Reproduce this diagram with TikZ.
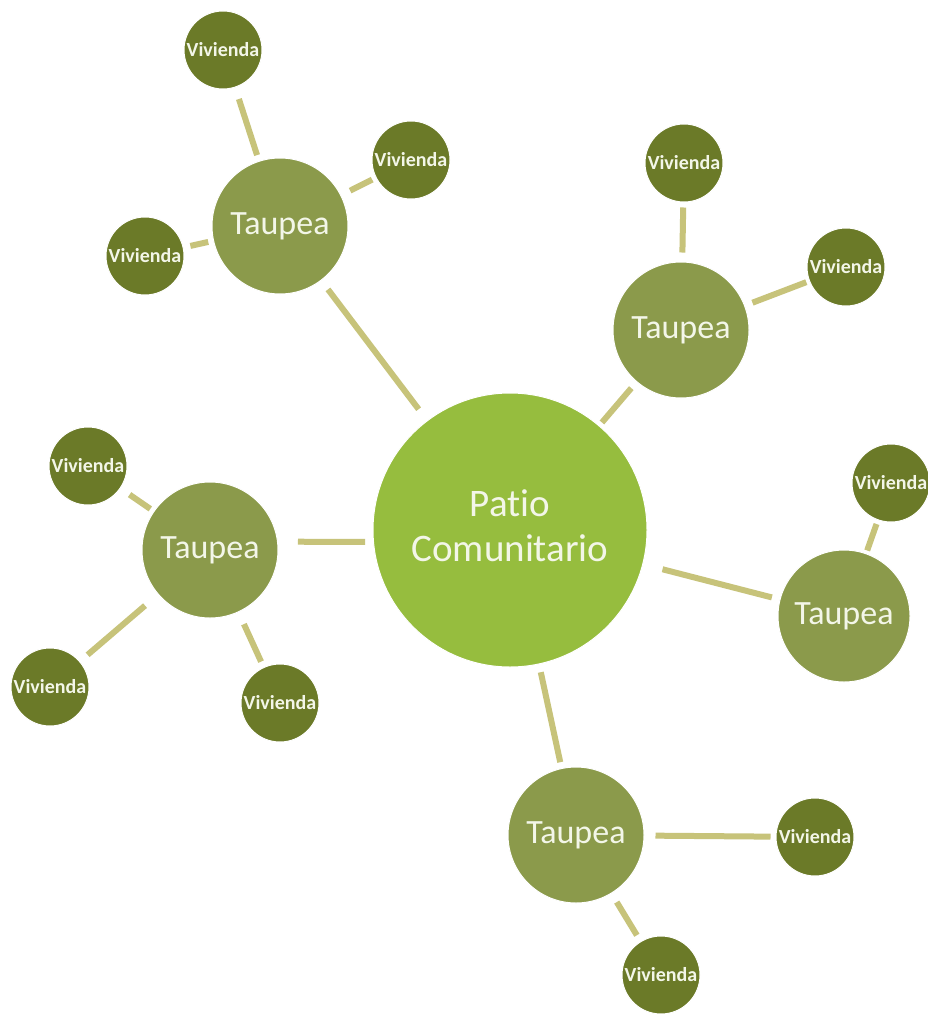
\documentclass[tikz,border=0pt]{standalone}
\usepackage{fontspec}
\setmainfont[Ligatures=NoCommon]{Carlito}
\definecolor{centerfill}{HTML}{96BD3E}
\definecolor{taupefill}{HTML}{8B9A4B}
\definecolor{vivfill}{HTML}{6B7A28}
\definecolor{linecol}{HTML}{C7C37A}
\definecolor{txtcol}{HTML}{F3F6E8}
\tikzset{
  hub/.style={circle, inner sep=0pt, minimum size=274pt, fill=centerfill, draw=white, line width=1pt, text=txtcol, font=\fontsize{39}{45}\selectfont},
  taupe/.style={circle, inner sep=0pt, minimum size=136pt, fill=taupefill, draw=white, line width=1pt, text=txtcol, font=\fontsize{34}{40}\selectfont},
  viv/.style={circle, inner sep=0pt, minimum size=78pt, fill=vivfill, draw=white, line width=1pt, text=txtcol, font=\bfseries\fontsize{20}{24}\selectfont},
  link/.style={draw=linecol, line width=6pt}
}
\begin{document}
\begin{tikzpicture}[x=1pt,y=-1pt]
\useasboundingbox (0,0) rectangle (928,1014);
\fill[white] (0,0) rectangle (928,1014);
% nodes
\node[hub] (C) at (510,530) {\raisebox{16pt}{\begin{tabular}{@{}c@{}}Patio\\Comunitario\end{tabular}}};
\node[taupe] (T1) at (280,226) {Taupea};
\node[taupe] (T2) at (681,330) {Taupea};
\node[taupe] (T3) at (210,550) {Taupea};
\node[taupe, minimum size=132pt] (T4) at (844,616) {Taupea};
\node[taupe] (T5) at (576,835) {Taupea};
\node[viv] (V1) at (223,50) {Vivienda};
\node[viv] (V2) at (411,160) {Vivienda};
\node[viv] (V3) at (145,256) {Vivienda};
\node[viv] (V4) at (684,163) {Vivienda};
\node[viv] (V5) at (846,267) {Vivienda};
\node[viv] (V6) at (88,466) {Vivienda};
\node[viv] (V7) at (891,483) {Vivienda};
\node[viv] (V8) at (50,687) {Vivienda};
\node[viv] (V9) at (280,703) {Vivienda};
\node[viv] (V10) at (815,837) {Vivienda};
\node[viv] (V11) at (661,975) {Vivienda};
% connectors
\draw[link, shorten <=11pt, shorten >=14pt] (T1) -- (C);
\draw[link, shorten <=8pt, shorten >=4pt] (T2) -- (C);
\draw[link, shorten <=20pt, shorten >=8pt] (T3.7) -- (C.185);
\draw[link, shorten <=8pt, shorten >=20pt] (T4) -- (C);
\draw[link, shorten <=6pt, shorten >=8pt] (T5) -- (C);
\draw[link, shorten <=6pt, shorten >=12pt] (T1) -- (V1);
\draw[link, shorten <=10pt, shorten >=4pt] (T1) -- (V2);
\draw[link, shorten <=5pt, shorten >=7pt] (T1) -- (V3);
\draw[link, shorten <=9pt, shorten >=5pt] (T2) -- (V4);
\draw[link, shorten <=8pt, shorten >=3pt] (T2) -- (V5);
\draw[link, shorten <=4pt, shorten >=11pt] (T3) -- (V6);
\draw[link, shorten <=17pt, shorten >=10pt] (T3) -- (V8);
\draw[link, shorten <=13pt, shorten >=6pt] (T3) -- (V9);
\draw[link, shorten <=3pt, shorten >=4pt] (T4) -- (V7);
\draw[link, shorten <=11pt, shorten >=5pt] (T5) -- (V10);
\draw[link, shorten <=10pt, shorten >=7pt] (T5) -- (V11);
\end{tikzpicture}
\end{document}
